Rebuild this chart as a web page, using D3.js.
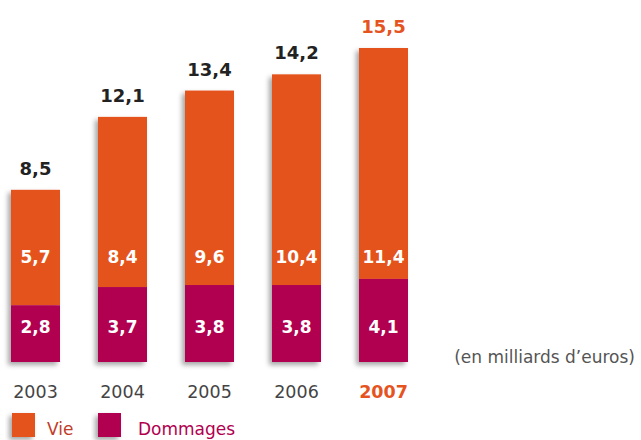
<!DOCTYPE html>
<html>
<head>
<meta charset="utf-8">
<script src="https://cdn.jsdelivr.net/npm/d3@7"></script>
<style>
body { margin: 0; background: #ffffff; }
svg { font-family: "DejaVu Sans", sans-serif; }
</style>
</head>
<body>
<svg width="641" height="440"></svg>
<script>
// data
var years = ["2003", "2004", "2005", "2006", "2007"];
var vie = [5.7, 8.4, 9.6, 10.4, 11.4];
var dommages = [2.8, 3.7, 3.8, 3.8, 4.1];
var totals = [8.5, 12.1, 13.4, 14.2, 15.5];

var orange = "#e5531f";
var magenta = "#b1004f";

var svg = d3.select("svg");

// soft shadow on the left and bottom of the bars
var defs = svg.append("defs");
var f = defs.append("filter")
	.attr("id", "shadow")
	.attr("x", "-30%").attr("y", "-10%")
	.attr("width", "150%").attr("height", "130%");
f.append("feDropShadow")
	.attr("dx", -3)
	.attr("dy", 3)
	.attr("stdDeviation", 2.5)
	.attr("flood-color", "#000000")
	.attr("flood-opacity", 0.35);

// bars are 49 wide, step 87, first bar at x = 11
var x = d3.scaleBand()
	.domain(years)
	.range([11, 11 + 87 * 4 + 49])
	.paddingInner(38 / 87)
	.paddingOuter(0);

var y = d3.scaleLinear()
	.domain([0, 15.5])
	.range([362, 48]);

var fmt = function(v) { return String(v).replace(".", ","); };

var g = svg.append("g");

// one group per year so the shadow covers the whole stack
var bars = g.selectAll(".bar")
	.data(years)
	.enter()
	.append("g")
	.attr("class", "bar")
	.attr("filter", "url(#shadow)");

bars.append("rect")
	.attr("x", function(d) { return x(d); })
	.attr("y", function(d, i) { return y(dommages[i] + vie[i]); })
	.attr("width", x.bandwidth())
	.attr("height", function(d, i) { return y(dommages[i]) - y(dommages[i] + vie[i]); })
	.style("fill", orange);

bars.append("rect")
	.attr("x", function(d) { return x(d); })
	.attr("y", function(d, i) { return y(dommages[i]); })
	.attr("width", x.bandwidth())
	.attr("height", function(d, i) { return y(0) - y(dommages[i]); })
	.style("fill", magenta);

// values inside the bars sit on two fixed rows
g.selectAll(".lvie")
	.data(vie)
	.enter()
	.append("text")
	.attr("x", function(d, i) { return x(years[i]) + x.bandwidth() / 2; })
	.attr("y", 263)
	.attr("text-anchor", "middle")
	.style("fill", "#ffffff")
	.style("font-weight", "bold")
	.style("font-size", "17px")
	.text(fmt);

g.selectAll(".ldom")
	.data(dommages)
	.enter()
	.append("text")
	.attr("x", function(d, i) { return x(years[i]) + x.bandwidth() / 2; })
	.attr("y", 333)
	.attr("text-anchor", "middle")
	.style("fill", "#ffffff")
	.style("font-weight", "bold")
	.style("font-size", "17px")
	.text(fmt);

// totals
g.selectAll(".ltot")
	.data(totals)
	.enter()
	.append("text")
	.attr("x", function(d, i) { return x(years[i]) + x.bandwidth() / 2; })
	.attr("y", function(d) { return y(d) - 15; })
	.attr("text-anchor", "middle")
	.style("fill", function(d, i) { return i == 4 ? orange : "#222222"; })
	.style("font-weight", "bold")
	.style("font-size", "18px")
	.text(fmt);

// year axis
var axis = g.append("g")
	.attr("transform", "translate(0,398)")
	.call(d3.axisBottom(x).tickSize(0).tickPadding(0));
axis.select(".domain").remove();
axis.selectAll("text")
	.attr("dy", 0)
	.style("font-family", "\"DejaVu Sans\", sans-serif")
	.style("font-size", "17.5px")
	.style("fill", function(d, i) { return i == 4 ? orange : "#444444"; })
	.style("font-weight", function(d, i) { return i == 4 ? "bold" : "normal"; });

svg.append("text")
	.attr("x", 635)
	.attr("y", 363)
	.attr("text-anchor", "end")
	.style("fill", "#555555")
	.style("font-size", "17px")
	.text("(en milliards d\u2019euros)");

// legend
var legend = [
	{ name: "Vie", color: orange, text: "#c23b2a", x: 12 },
	{ name: "Dommages", color: magenta, text: "#b1004f", x: 98 }
];
var lg = svg.selectAll(".leg")
	.data(legend)
	.enter()
	.append("g");
lg.append("rect")
	.attr("x", function(d) { return d.x; })
	.attr("y", 413)
	.attr("width", 23)
	.attr("height", 24)
	.attr("filter", "url(#shadow)")
	.style("fill", function(d) { return d.color; });
lg.append("text")
	.attr("x", function(d) { return d.x + 35 + (d.name == "Dommages" ? 5 : 0); })
	.attr("y", 435)
	.style("fill", function(d) { return d.text; })
	.style("font-size", "17px")
	.text(function(d) { return d.name; });
</script>
</body>
</html>
